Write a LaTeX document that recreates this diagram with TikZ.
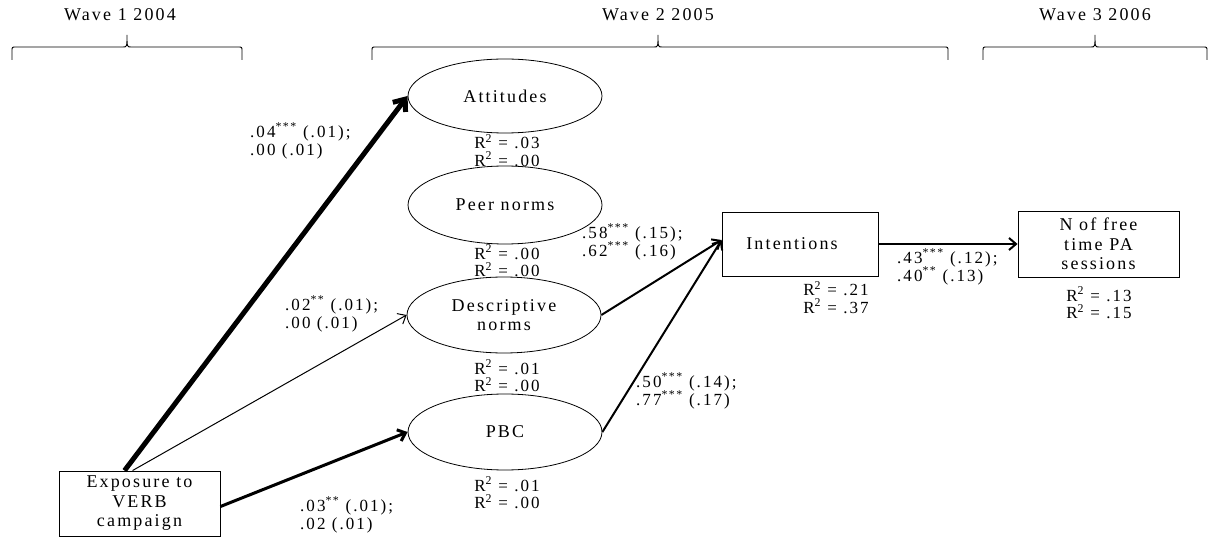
\documentclass[tikz,border=0pt]{standalone}
\usepackage{fontspec}
\setmainfont{Liberation Serif}[LetterSpace=12]
\usetikzlibrary{shapes.geometric,arrows.meta}
\begin{document}
\begin{tikzpicture}[x=1pt,y=-1pt,
  every node/.style={font=\fontsize{18}{19.5}\selectfont, inner sep=0pt},
  ell/.style={draw, ellipse, minimum width=194pt, minimum height=74pt, line width=0.8pt, align=center},
  box/.style={draw, rectangle, line width=0.9pt, align=center},
  lbl/.style={align=left, anchor=west, font=\fontsize{17}{18}\selectfont},
  rsq/.style={align=center, font=\fontsize{17}{17.5}\selectfont},
  arr/.style={-{Straight Barb[length=7pt,width=12pt]}},
  bigarr/.style={-{Straight Barb[length=10pt,width=16pt]}},
  brc/.style={line width=0.9pt}
]
\useasboundingbox (0,0) rectangle (1213,537);

% wave labels and braces
\node (w1) at (120,15) {Wave 1  2004};
\node (w2) at (658,15) {Wave 2  2005};
\node (w3) at (1095,15) {Wave 3  2006};
\draw[brc] (12,60) -- (12,51) .. controls (12,47) .. (16,47) -- (123,47) .. controls (127,47) .. (127,35) .. controls (127,47) .. (131,47) -- (238,47) .. controls (242,47) .. (242,51) -- (242,60);
\draw[brc] (372,60) -- (372,51) .. controls (372,47) .. (376,47) -- (654,47) .. controls (658,47) .. (658,35) .. controls (658,47) .. (662,47) -- (944,47) .. controls (948,47) .. (948,51) -- (948,60);
\draw[brc] (983,60) -- (983,51) .. controls (983,47) .. (987,47) -- (1091,47) .. controls (1095,47) .. (1095,35) .. controls (1095,47) .. (1099,47) -- (1203,47) .. controls (1207,47) .. (1207,51) -- (1207,60);

% nodes
\node[ell] (att) at (505,96) {Attitudes};
\node[ell, minimum height=78pt] (peer) at (505,205) {Peer norms};
\node[ell, minimum height=76pt] (desc) at (504,315) {Descriptive\\norms};
\node[ell, minimum height=76pt] (pbc) at (505,432) {PBC};
\node[box, minimum width=161pt, minimum height=65pt] (exp) at (139.5,503.5) {Exposure to\\VERB\\campaign};
\node[box, minimum width=156pt, minimum height=64pt] (int) at (800,244) {Intentions\hspace{16pt}};
\node[box, minimum width=161pt, minimum height=66pt] (pa) at (1098.5,244) {N of free\\time PA\\sessions};

% R squared
\node[rsq] (r1) at (507,150.5) {R\textsuperscript{2} = .03\\R\textsuperscript{2} = .00};
\node[rsq] (r2) at (507,261) {R\textsuperscript{2} = .00\\R\textsuperscript{2} = .00};
\node[rsq] (r3) at (507,376) {R\textsuperscript{2} = .01\\R\textsuperscript{2} = .00};
\node[rsq] (r4) at (507,493) {R\textsuperscript{2} = .01\\R\textsuperscript{2} = .00};
\node[rsq] (r5) at (836,297.5) {R\textsuperscript{2} = .21\\R\textsuperscript{2} = .37};
\node[rsq] (r6) at (1099,303) {R\textsuperscript{2} = .13\\R\textsuperscript{2} = .15};

% coefficients
\node[lbl] (c1) at (250,141) {.04\textsuperscript{***} (.01);\\.00 (.01)};
\node[lbl] (c2) at (285,314) {.02\textsuperscript{**} (.01);\\.00 (.01)};
\node[lbl] (c3) at (300,515) {.03\textsuperscript{**} (.01);\\.02 (.01)};
\node[lbl] (c4) at (582,242) {.58\textsuperscript{***} (.15);\\.62\textsuperscript{***} (.16)};
\node[lbl] (c5) at (636,391) {.50\textsuperscript{***} (.14);\\.77\textsuperscript{***} (.17)};
\node[lbl] (c6) at (897,267) {.43\textsuperscript{***} (.12);\\.40\textsuperscript{**} (.13)};

% connectors
\draw[bigarr, line width=5pt] ([xshift=66pt]exp.north west) -- (att.west);
\draw[arr, line width=1pt] ([xshift=74pt]exp.north west) -- (desc.west);
\draw[arr, line width=3pt] ([yshift=-3pt]exp.east) -- (pbc.west);
\draw[arr, line width=2pt] (desc.east) -- ([yshift=4pt]int.west);
\draw[arr, line width=2pt] (pbc.east) -- ([yshift=4pt]int.west);
\draw[arr, line width=2pt] (int.east) -- (pa.west);
\end{tikzpicture}
\end{document}
